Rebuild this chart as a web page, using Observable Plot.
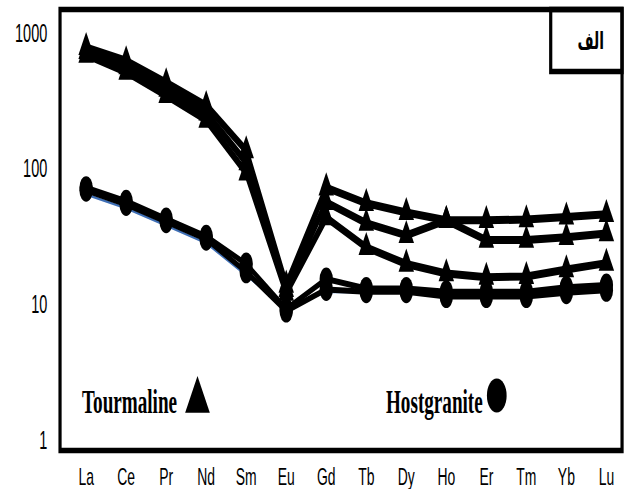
<!DOCTYPE html>
<html><head><meta charset="utf-8">
<script src="https://cdn.jsdelivr.net/npm/d3@7"></script>
<script src="https://cdn.jsdelivr.net/npm/@observablehq/plot@0.6"></script>
<style>
html,body{margin:0;padding:0;background:#fff;}
#wrap{width:625px;height:489px;overflow:hidden;position:relative;background:#fff;}
#wrap svg{transform:scaleX(0.58);transform-origin:0 0;display:block;max-width:none !important;height:489px !important;}
</style></head><body><div id="wrap"></div>
<script>
// REE elements (x categories)
const elements = ["La","Ce","Pr","Nd","Sm","Eu","Gd","Tb","Dy","Ho","Er","Tm","Yb","Lu"];
// Tourmaline samples (triangles)
const tourmalineA = [790, 630, 435, 295, 137, 14, 73, 56, 48, 42, 42, 42.5, 44.5, 46.5];
const tourmalineB = [740, 570, 390, 260, 112, 13, 57, 40, 32.5, 42, 30, 30, 31.5, 33.5];
const tourmalineC = [695, 520, 350, 230, 94, 12.2, 44, 26.5, 20, 17, 16, 16.2, 18.2, 20.3];
// Host granite samples (circles)
const hostgraniteA = [73, 58, 43, 32, 20, 9.3, 15.5, 13.2, 13.2, 12.5, 12.5, 12.5, 13.5, 14];
const hostgraniteB = [70, 55, 41, 30.5, 17.5, 9.0, 13, 12.5, 12.5, 11.5, 11.5, 11.5, 12.3, 12.8];
const hostgraniteBlue = [65, 51.5, 38.5, 28.5, 16.5, 9.4, 12.5, 12.4, 12.4, 12, 12, 12, 12.8, 13.3];
// y tick values
const yTicks = [1, 10, 100, 1000];
const legendLabels = ["Tourmaline", "Hostgranite"];
const panelLabel = "الف";

const SX = 0.58;
const W = Math.round(625 / SX);

function rowsOf(series, vals) {
  return vals.map((v, i) => ({element: elements[i], value: v, series}));
}
const tourRows = [
  ...rowsOf("T1", tourmalineA),
  ...rowsOf("T2", tourmalineB),
  ...rowsOf("T3", tourmalineC)
];
const hostRows = [
  ...rowsOf("H1", hostgraniteA),
  ...rowsOf("H2", hostgraniteB)
];
const blueRows = rowsOf("HB", hostgraniteBlue);

const chart = Plot.plot({
  width: W,
  height: 489,
  marginLeft: 103,
  marginRight: 6,
  marginTop: 9,
  marginBottom: 39,
  style: {background: "#fff", color: "#000", fontFamily: "'Liberation Sans', Arial, sans-serif", overflow: "visible"},
  x: {type: "point", domain: elements, range: [84 / SX, 608 / SX], padding: 0},
  y: {type: "log", domain: [0.844, 1503], range: [450, 9]},
  marks: [
    Plot.axisX({tickSize: 0, tickPadding: 17, fontSize: 24, label: null}),
    Plot.axisY({ticks: yTicks, tickFormat: d => String(d), tickSize: 0, tickPadding: 22, fontSize: 25, label: null}),
    Plot.line(blueRows, {x: "element", y: "value", stroke: "#3f6fb5", strokeWidth: 2.5}),
    Plot.line(hostRows, {x: "element", y: "value", z: "series", stroke: "#000", strokeWidth: 6}),
    Plot.dot(hostRows, {x: "element", y: "value", symbol: "circle", r: 11.5, fill: "#000"}),
    Plot.line(tourRows, {x: "element", y: "value", z: "series", stroke: "#000", strokeWidth: 8}),
    Plot.dot(tourRows, {x: "element", y: "value", symbol: "triangle", r: 9.9, fill: "#000"}),
    Plot.frame({stroke: "#000", strokeWidth: 5.5}),
    Plot.frame({stroke: "#000", strokeWidth: 5.5, insetLeft: 949 - 103, insetBottom: 450 - 71}),
    Plot.text([panelLabel], {text: d => d, frameAnchor: "top-right", dx: -54, dy: 32, textAnchor: "middle", lineAnchor: "middle", fontSize: 24, fontWeight: "bold", fontFamily: "'DejaVu Sans', sans-serif", fill: "#000"}),
    Plot.text([legendLabels[0]], {text: d => d, frameAnchor: "bottom-left", dx: 38, dy: -38, textAnchor: "start", lineAnchor: "bottom", fontSize: 33, fontWeight: "bold", fontFamily: "'Liberation Serif', 'Times New Roman', serif", fill: "#000"}),
    Plot.dot([legendLabels[0]], {frameAnchor: "bottom-left", dx: 237, dy: -50, symbol: "triangle", r: 15.8, fill: "#000"}),
    Plot.text([legendLabels[1]], {text: d => d, frameAnchor: "bottom-left", dx: 562, dy: -38, textAnchor: "start", lineAnchor: "bottom", fontSize: 33, fontWeight: "bold", fontFamily: "'Liberation Serif', 'Times New Roman', serif", fill: "#000"}),
    Plot.dot([legendLabels[1]], {frameAnchor: "bottom-left", dx: 753, dy: -55, symbol: "circle", r: 17, fill: "#000"})
  ]
});
document.getElementById("wrap").appendChild(chart);
</script>
</body></html>
